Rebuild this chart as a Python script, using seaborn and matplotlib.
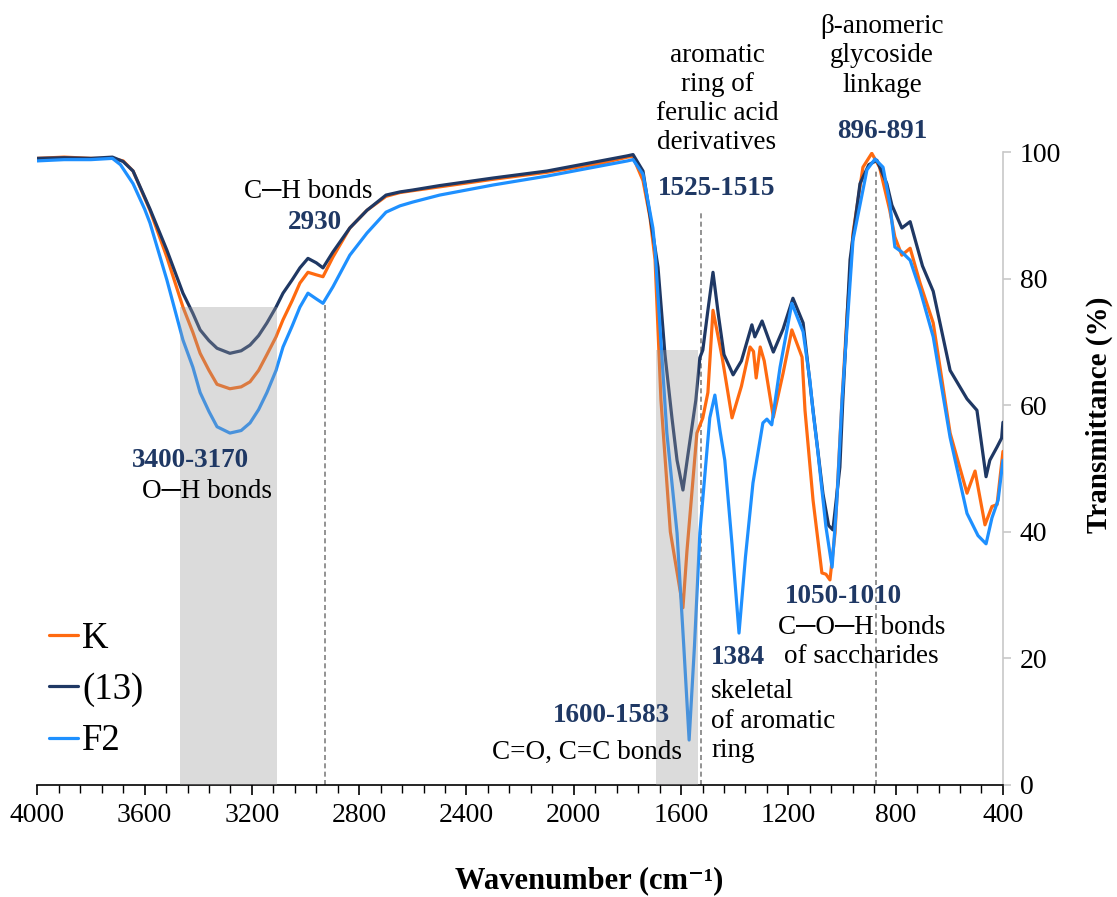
import matplotlib
matplotlib.use("Agg")
import matplotlib.pyplot as plt
from matplotlib.ticker import MultipleLocator
import pandas as pd
import seaborn as sns

# ---- spectra (wavenumber cm-1, transmittance %) ----
k_wn = [4000, 3900, 3800, 3720, 3680, 3643, 3580, 3517, 3457, 3420, 3393, 3360, 3330, 3282,
        3240, 3207, 3175, 3144, 3110, 3084, 3050, 3021, 2991, 2960, 2935, 2898, 2835, 2771,
        2700, 2648, 2600, 2500, 2300, 2100, 1900, 1800, 1780, 1742, 1716, 1697, 1675, 1640,
        1593, 1578, 1541, 1519, 1500, 1481, 1447, 1410, 1375, 1343, 1330, 1320, 1305, 1290,
        1256, 1220, 1187, 1149, 1138, 1108, 1075, 1060, 1045, 1026, 1000, 980, 959, 922, 889,
        860, 822, 803, 777, 746, 709, 660, 597, 534, 504, 467, 441, 422, 400]
k_t = [99.0, 99.2, 99.0, 99.0, 98.6, 97.0, 90.8, 83.4, 75.5, 71.5, 68.2, 65.5, 63.3, 62.6,
       62.9, 63.7, 65.5, 68.0, 70.8, 73.5, 76.5, 79.3, 81.0, 80.6, 80.3, 83.4, 88.0, 90.8,
       93.0, 93.6, 93.9, 94.5, 95.7, 96.8, 98.2, 99.2, 99.3, 95.5, 89.7, 83.0, 60.8, 40.0,
       28.0, 37.0, 55.6, 58.0, 62.0, 75.0, 67.6, 58.0, 63.0, 69.2, 68.5, 64.3, 69.2, 67.0,
       58.1, 65.0, 71.9, 67.6, 59.2, 45.0, 33.5, 33.3, 32.4, 39.8, 60.8, 75.0, 87.2, 97.6,
       99.8, 97.6, 90.8, 86.6, 83.7, 84.8, 79.3, 73.0, 55.6, 46.1, 49.6, 41.1, 44.0, 44.3,
       52.7]

s13_wn = [4000, 3900, 3800, 3720, 3680, 3643, 3580, 3517, 3457, 3420, 3393, 3360, 3330, 3282,
          3240, 3207, 3175, 3144, 3110, 3084, 3050, 3021, 2991, 2960, 2935, 2898, 2835, 2771,
          2700, 2648, 2600, 2500, 2300, 2100, 1900, 1800, 1779, 1742, 1705, 1686, 1660, 1634,
          1615, 1593, 1575, 1545, 1530, 1519, 1500, 1481, 1460, 1440, 1406, 1375, 1336, 1325,
          1298, 1256, 1220, 1183, 1145, 1108, 1071, 1050, 1034, 1008, 997, 970, 933, 900, 870,
          833, 814, 777, 746, 700, 660, 597, 534, 497, 463, 449, 422, 405, 400]
s13_t = [99.0, 99.1, 99.0, 99.2, 98.5, 97.0, 91.0, 84.5, 77.7, 74.5, 71.9, 70.2, 69.0, 68.2,
         68.6, 69.5, 71.0, 73.0, 75.5, 77.7, 79.8, 81.7, 83.2, 82.5, 81.7, 84.2, 88.0, 90.8,
         93.2, 93.7, 94.0, 94.7, 95.9, 97.0, 98.6, 99.4, 99.6, 97.0, 87.0, 81.8, 68.0, 58.0,
         51.3, 46.6, 52.0, 60.8, 67.5, 68.7, 75.0, 81.0, 74.0, 68.0, 64.8, 67.0, 72.7, 70.8,
         73.3, 68.4, 72.0, 76.9, 73.0, 59.2, 46.0, 41.0, 40.3, 50.2, 60.8, 83.0, 95.0, 98.0,
         98.7, 95.0, 91.6, 88.0, 89.0, 82.0, 78.0, 65.5, 61.0, 59.2, 48.7, 51.3, 53.4, 54.8,
         57.3]

f2_wn = [4000, 3900, 3800, 3720, 3690, 3643, 3600, 3580, 3517, 3457, 3420, 3393, 3360, 3330,
         3282, 3240, 3207, 3175, 3144, 3110, 3084, 3050, 3021, 2991, 2960, 2935, 2898, 2835,
         2771, 2700, 2648, 2600, 2500, 2300, 2100, 1900, 1800, 1779, 1742, 1705, 1697, 1675,
         1653, 1615, 1590, 1570, 1550, 1530, 1493, 1474, 1455, 1437, 1410, 1384, 1360, 1332,
         1295, 1280, 1262, 1231, 1187, 1145, 1120, 1108, 1091, 1060, 1037, 1019, 1000, 959,
         907, 877, 847, 822, 803, 777, 746, 709, 660, 597, 534, 493, 463, 441, 418, 400]
f2_t = [98.6, 98.8, 98.8, 99.0, 98.0, 95.0, 91.0, 88.8, 79.8, 70.3, 66.0, 62.0, 59.0, 56.6,
        55.6, 56.0, 57.2, 59.3, 62.0, 65.5, 69.2, 72.5, 75.5, 77.7, 76.8, 76.1, 78.7, 83.7,
        87.2, 90.5, 91.5, 92.1, 93.2, 94.8, 96.2, 97.8, 98.6, 98.8, 96.5, 88.0, 84.5, 70.0,
        55.6, 39.8, 22.0, 7.1, 22.0, 39.8, 58.0, 61.6, 56.0, 51.3, 38.0, 24.0, 36.0, 47.7,
        57.2, 57.8, 56.9, 66.0, 76.1, 71.6, 64.0, 59.0, 53.0, 40.8, 34.4, 45.0, 60.8, 86.1,
        97.2, 98.9, 97.6, 91.9, 85.0, 84.2, 82.9, 78.2, 70.8, 54.9, 42.9, 39.4, 38.1, 42.2,
        45.0, 51.3]

series_names = ["K", "(13)", "F2"]
series_colors = ["#FF6A10", "#1F3864", "#1E90FF"]

# shaded bands: (from, to, height) and dashed marker lines: position, top
band_from = [3468, 1694]
band_to = [3105, 1536]
band_top = [75.5, 68.7]
mark_wn = [2928, 1524, 872]
mark_top = [76, 90.5, 97]

navy = "#1F3864"

# build long frame for seaborn
df = pd.concat([
    pd.DataFrame({"wn": k_wn, "T": k_t, "sample": "K"}),
    pd.DataFrame({"wn": s13_wn, "T": s13_t, "sample": "(13)"}),
    pd.DataFrame({"wn": f2_wn, "T": f2_t, "sample": "F2"}),
], ignore_index=True)

sns.set_style("white")
plt.rcParams['font.family'] = ['Liberation Serif', 'DejaVu Serif']
plt.rcParams['text.color'] = 'black'
plt.rcParams['axes.labelcolor'] = 'black'
plt.rcParams['xtick.color'] = 'black'
plt.rcParams['ytick.color'] = 'black'

fig = plt.figure(figsize=(11.17, 8.97), dpi=100)
ax = fig.add_axes([0.0334, 0.1249, 0.8645, 0.7056])

sns.lineplot(data=df, x="wn", y="T", hue="sample", hue_order=series_names,
             palette=series_colors, estimator=None, linewidth=2.3, ax=ax, zorder=3)

# gray bands drawn over the curves
for a, b, h in zip(band_from, band_to, band_top):
    ax.fill_between([a, b], 0, h, color="#9a989a", alpha=0.35, lw=0, zorder=4)

ax.vlines(mark_wn, 0, mark_top, colors="#808080", linestyles=(0, (3, 2)), lw=1.2, zorder=2)

ax.set_xlim(4000, 400)
ax.set_ylim(0, 100)
ax.xaxis.set_major_locator(MultipleLocator(400))
ax.xaxis.set_minor_locator(MultipleLocator(80))
ax.yaxis.set_major_locator(MultipleLocator(20))
ax.yaxis.tick_right()
ax.yaxis.set_label_position("right")

for s in ["left", "top"]:
    ax.spines[s].set_visible(False)
ax.spines["bottom"].set_color("black")
ax.spines["bottom"].set_linewidth(1.2)
ax.spines["right"].set_color("#c8c8c8")
ax.spines["right"].set_linewidth(1.2)

ax.tick_params(axis="x", which="both", direction="out", bottom=True, color="black",
               labelcolor="black", labelsize=20, pad=6)
ax.tick_params(axis="x", which="major", length=7, width=1.2)
ax.tick_params(axis="x", which="minor", length=6, width=1.0)
ax.tick_params(axis="y", direction="out", right=True, left=False, length=6, width=1.2,
               color="#c8c8c8", labelcolor="black", labelsize=20, pad=6)

ax.set_xlabel("Wavenumber (cm⁻¹)", fontsize=22, fontweight="bold", color="black")
ax.set_ylabel("Transmittance (%)", fontsize=21, fontweight="bold", rotation=90, color="black")
ax.xaxis.set_label_coords(0.572, -0.128)
ax.yaxis.set_label_coords(1.086, 0.585)

# annotations
txt = dict(fontsize=19.5, color="black", ha="center", va="center", zorder=6)
bold = dict(fontsize=19.5, color=navy, fontweight="bold", ha="center", va="center", zorder=6)

ax.text(2990, 93.7, "C\u2500H bonds", **txt)
ax.text(2965, 88.8, "2930", **bold)
ax.text(3430, 51.3, "3400-3170", **bold)
ax.text(3367, 46.3, "O\u2500H bonds", **txt)
ax.text(1466, 108.4, "aromatic\nring of\nferulic acid\nderivatives", linespacing=1.22, **txt)
ax.text(1466, 94.3, "1525-1515", **bold)
ax.text(851, 115.2, "β-anomeric\nglycoside\nlinkage", linespacing=1.22, **txt)
ax.text(849, 103.2, "896-891", **bold)
ax.text(995, 29.7, "1050-1010", **bold)
ax.text(928, 22.6, "C\u2500O\u2500H bonds\nof saccharides", linespacing=1.22, **txt)
ax.text(1488, 20.1, "1384", fontsize=19.5, color=navy, fontweight="bold", ha="left",
        va="center", zorder=6)
ax.text(1488, 10.1, "skeletal\nof aromatic\nring", fontsize=19.5, color="black", ha="left",
        va="center", linespacing=1.22, zorder=6)
ax.text(1642, 11.0, "1600-1583", fontsize=19.5, color=navy, fontweight="bold", ha="right",
        va="center", zorder=6)
ax.text(1595, 5.2, "C=O, C=C bonds", fontsize=19.5, color="black", ha="right", va="center",
        zorder=6)

handles, labels = ax.get_legend_handles_labels()
leg = ax.legend(handles, labels, loc="upper left", bbox_to_anchor=(0.012, 0.258),
                frameon=False, fontsize=26.5, handlelength=0.8, handletextpad=0.1,
                labelspacing=0.45, borderpad=0, borderaxespad=0)
for t in leg.get_texts():
    t.set_color("black")

fig.savefig("out.png", dpi=100)
